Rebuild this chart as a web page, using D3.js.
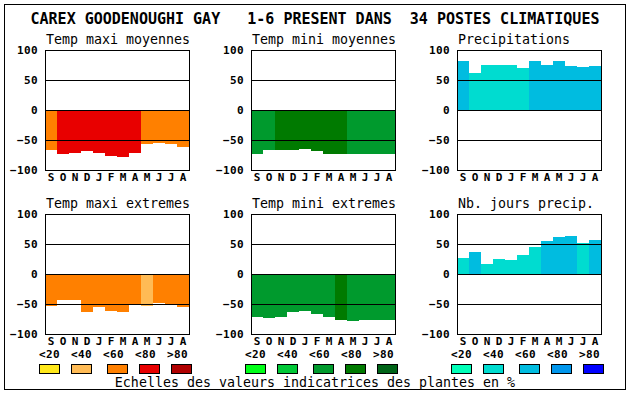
<!DOCTYPE html>
<html>
<head>
<meta charset="utf-8">
<script src="https://cdn.jsdelivr.net/npm/d3@7"></script>
<style>
  body { margin: 0; background: #fff; }
  svg { display: block; }
  text { font-family: 'DejaVu Sans Mono', monospace; fill: #000; }
</style>
</head>
<body>
<svg id="chart" width="630" height="394"></svg>
<script>
(function () {
  'use strict'

  var titleText = 'CAREX GOODENOUGHI GAY   1-6 PRESENT DANS  34 POSTES CLIMATIQUES'
  var footerText = 'Echelles des valeurs indicatrices des plantes en %'

  var months = ['S', 'O', 'N', 'D', 'J', 'F', 'M', 'A', 'M', 'J', 'J', 'A']
  var yTicks = [100, 50, 0, -50, -100]
  var gridValues = [50, 0, -50]
  var legendLabels = ['<20', '<40', '<60', '<80', '>80']

  var warmColors = ['#ffe81a', '#ffbb55', '#ff8000', '#e80000', '#b00000']
  var greenColors = ['#00ff18', '#00c837', '#009a2d', '#007a00', '#006418']
  var blueColors = ['#00ffb8', '#00dcd0', '#00bce0', '#0096ec', '#0000ff']

  // valeurs et classes (indice dans la palette) par mois
  var maxiMoyValues = [-66, -73, -71, -68, -71, -76, -78, -71, -56, -55, -56, -61]
  var maxiMoyClasses = [2, 3, 3, 3, 3, 3, 3, 3, 2, 2, 2, 2]
  var miniMoyValues = [-73, -66, -66, -66, -65, -68, -73, -74, -73, -73, -73, -73]
  var miniMoyClasses = [2, 2, 3, 3, 3, 3, 3, 3, 2, 2, 2, 2]
  var precipValues = [82, 62, 75, 75, 75, 70, 82, 75, 82, 73, 72, 73]
  var precipClasses = [2, 1, 1, 1, 1, 1, 2, 2, 2, 2, 2, 2]
  var maxiExtValues = [-53, -43, -43, -64, -55, -62, -63, -50, -53, -48, -50, -55]
  var maxiExtClasses = [2, 2, 2, 2, 2, 2, 2, 2, 1, 2, 2, 2]
  var miniExtValues = [-72, -73, -72, -63, -62, -67, -72, -77, -78, -77, -77, -77]
  var miniExtClasses = [2, 2, 2, 2, 2, 2, 2, 3, 2, 2, 2, 2]
  var joursValues = [27, 37, 17, 25, 23, 32, 45, 55, 62, 63, 52, 57]
  var joursClasses = [1, 2, 1, 1, 1, 1, 1, 2, 2, 2, 1, 2]

  var panels = [
    { title: 'Temp maxi moyennes', values: maxiMoyValues, classes: maxiMoyClasses, colors: warmColors, col: 0, row: 0 },
    { title: 'Temp mini moyennes', values: miniMoyValues, classes: miniMoyClasses, colors: greenColors, col: 1, row: 0 },
    { title: 'Precipitations', values: precipValues, classes: precipClasses, colors: blueColors, col: 2, row: 0 },
    { title: 'Temp maxi extremes', values: maxiExtValues, classes: maxiExtClasses, colors: warmColors, col: 0, row: 1 },
    { title: 'Temp mini extremes', values: miniExtValues, classes: miniExtClasses, colors: greenColors, col: 1, row: 1 },
    { title: 'Nb. jours precip.', values: joursValues, classes: joursClasses, colors: blueColors, col: 2, row: 1 }
  ]

  var plotW = 144
  var plotH = 120
  var colLeft = [45, 251, 457]
  var rowTop = [50, 214]

  var svg = d3.select('#chart')

  svg.append('rect')
        .attr('x', 4.5)
        .attr('y', 4.5)
        .attr('width', 621)
        .attr('height', 385)
        .attr('fill', '#fff')
        .attr('stroke', '#000')
        .attr('shape-rendering', 'crispEdges')

  svg.append('text')
        .attr('x', 315)
        .attr('y', 23.5)
        .attr('text-anchor', 'middle')
        .style('font-size', '15px')
        .style('font-weight', 'bold')
        .style('white-space', 'pre')
        .text(titleText)

  var x = d3.scaleBand().domain(d3.range(months.length)).range([0, plotW])
  var y = d3.scaleLinear().domain([-100, 100]).range([plotH, 0])

  function drawPanel (p) {
    var g = svg.append('g')
          .attr('transform', 'translate(' + colLeft[p.col] + ',' + rowTop[p.row] + ')')

    g.append('text')
          .attr('x', 1)
          .attr('y', -6.5)
          .style('font-size', '13.3px')
          .text(p.title)

    g.selectAll('rect.bar')
          .data(p.values)
          .enter()
          .append('rect')
          .attr('class', 'bar')
          .attr('x', function (d, i) { return x(i) })
          .attr('width', x.bandwidth())
          .attr('y', function (d) { return y(Math.max(0, d)) })
          .attr('height', function (d) { return Math.abs(y(d) - y(0)) })
          .attr('fill', function (d, i) { return p.colors[p.classes[i]] })
          .attr('shape-rendering', 'crispEdges')

    g.selectAll('line.grid')
          .data(gridValues)
          .enter()
          .append('line')
          .attr('class', 'grid')
          .attr('x1', 0)
          .attr('x2', plotW)
          .attr('y1', function (d) { return y(d) + 0.5 })
          .attr('y2', function (d) { return y(d) + 0.5 })
          .attr('stroke', '#000')
          .attr('shape-rendering', 'crispEdges')

    g.append('rect')
          .attr('x', 0.5)
          .attr('y', 0.5)
          .attr('width', plotW)
          .attr('height', plotH)
          .attr('fill', 'none')
          .attr('stroke', '#000')
          .attr('shape-rendering', 'crispEdges')

    var yAxis = g.append('g')
          .call(d3.axisLeft(y).tickValues(yTicks).tickSize(0).tickPadding(7))
    yAxis.select('.domain').remove()
    yAxis.selectAll('text')
          .style('font-family', "'DejaVu Sans Mono', monospace")
          .style('font-size', '11px')
          .style('font-weight', 'bold')
          .style('letter-spacing', '0.4px')
          .attr('fill', '#000')

    var xAxis = g.append('g')
          .attr('transform', 'translate(0,' + plotH + ')')
          .call(d3.axisBottom(x).tickFormat(function (i) { return months[i] }).tickSize(0).tickPadding(3))
    xAxis.select('.domain').remove()
    xAxis.selectAll('text')
          .style('font-family', "'DejaVu Sans Mono', monospace")
          .style('font-size', '11px')
          .style('font-weight', 'bold')
          .attr('fill', '#000')
  }

  panels.forEach(drawPanel)

  // legendes des echelles sous chaque colonne
  var legendPalettes = [warmColors, greenColors, blueColors]
  legendPalettes.forEach(function (colors, c) {
    var start = colLeft[c] - 6
    var lg = svg.append('g')

    lg.selectAll('text')
          .data(legendLabels)
          .enter()
          .append('text')
          .attr('x', function (d, i) { return start + i * 32 })
          .attr('y', 357.5)
          .style('font-size', '11px')
          .style('font-weight', 'bold')
          .style('letter-spacing', '0.4px')
          .text(function (d) { return d })

    lg.selectAll('rect')
          .data(colors)
          .enter()
          .append('rect')
          .attr('x', function (d, i) { return start + i * 32 + (i >= 2 ? 4 : 0) + 0.5 })
          .attr('y', 364.5)
          .attr('width', 20)
          .attr('height', 9)
          .attr('fill', function (d) { return d })
          .attr('stroke', '#000')
          .attr('shape-rendering', 'crispEdges')
  })

  svg.append('text')
        .attr('x', 315)
        .attr('y', 386.5)
        .attr('text-anchor', 'middle')
        .style('font-size', '13.3px')
        .text(footerText)
})()
</script>
</body>
</html>
